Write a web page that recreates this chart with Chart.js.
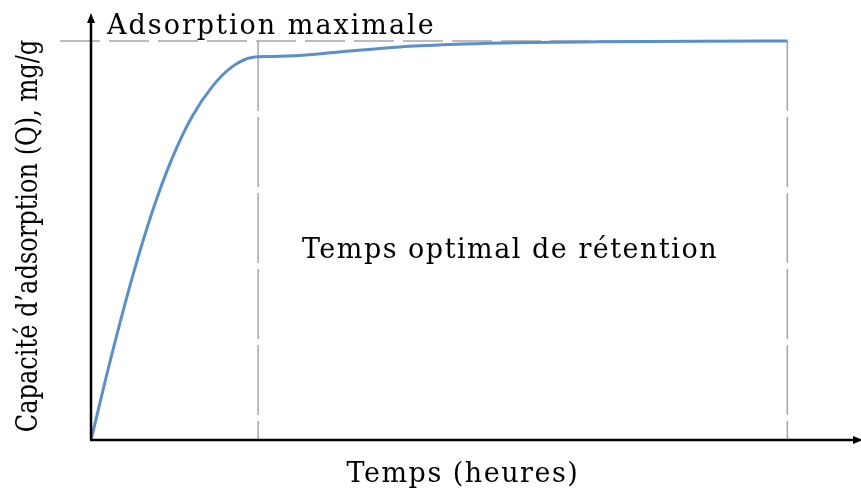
<!DOCTYPE html>
<html>
<head>
<meta charset="utf-8">
<script src="https://cdn.jsdelivr.net/npm/chart.js@4"></script>
<style>
  body { margin: 0; background: #fff; }
  .wrap { width: 861px; height: 488px; position: relative; }
</style>
</head>
<body>
<div class="wrap"><canvas id="myChart"></canvas></div>
<script>
// temps (h) et capacité relative Q/Qmax
const temps = [0, 0.30, 0.589, 0.876, 1.163, 1.45, 1.738, 2.025, 2.312, 2.599, 3.0, 3.719, 4.437, 5.155, 5.873, 7.309, 8.745, 10];
const capacite = [0, 0.215, 0.405, 0.57, 0.705, 0.81, 0.885, 0.935, 0.9586, 0.961, 0.9637, 0.975, 0.985, 0.991, 0.995, 0.998, 0.9995, 1.0];

const tempsOptimal = 2.4;
const tempsFin = 10;
const qMax = 1;

const labelY = "Capacité d’adsorption (Q), mg/g";
const labelX = "Temps (heures)";
const labelMax = "Adsorption maximale";
const labelZone = "Temps optimal de rétention";

const police = "'DejaVu Serif', 'Liberation Serif', serif";

const points = temps.map((t, i) => ({ x: t, y: capacite[i] }));

// lignes pointillées + axes fléchés + textes
const dessin = {
  id: "dessin",
  beforeDatasetsDraw(chart) {
    const { ctx, chartArea, scales } = chart;
    const x = scales.x, y = scales.y;
    const yMax = y.getPixelForValue(qMax);
    const xOpt = x.getPixelForValue(tempsOptimal);
    const xFin = x.getPixelForValue(tempsFin);
    const y0 = y.getPixelForValue(0);
    ctx.save();
    ctx.strokeStyle = "#a6a6a6";
    ctx.lineWidth = 1.5;
    ctx.setLineDash([40, 9]);
    ctx.beginPath();
    ctx.moveTo(chartArea.left - 31, yMax);
    ctx.lineTo(xFin, yMax);
    ctx.stroke();
    ctx.setLineDash([70, 6]);
    ctx.beginPath();
    ctx.moveTo(xOpt, yMax);
    ctx.lineTo(xOpt, y0);
    ctx.moveTo(xFin, yMax);
    ctx.lineTo(xFin, y0);
    ctx.stroke();
    ctx.restore();
  },
  afterDraw(chart) {
    const { ctx, chartArea } = chart;
    const left = chartArea.left, bottom = chartArea.bottom;
    ctx.save();
    ctx.strokeStyle = "#000";
    ctx.fillStyle = "#000";
    ctx.lineWidth = 2.5;
    ctx.beginPath();
    ctx.moveTo(left, bottom);
    ctx.lineTo(left, chartArea.top + 6);
    ctx.moveTo(left - 1, bottom);
    ctx.lineTo(chartArea.right + 2, bottom);
    ctx.stroke();
    // pointes de flèche
    ctx.beginPath();
    ctx.moveTo(left, chartArea.top - 2);
    ctx.lineTo(left - 4, chartArea.top + 8);
    ctx.lineTo(left + 4, chartArea.top + 8);
    ctx.closePath();
    ctx.fill();
    ctx.beginPath();
    ctx.moveTo(chartArea.right + 6, bottom);
    ctx.lineTo(chartArea.right - 4, bottom - 4);
    ctx.lineTo(chartArea.right - 4, bottom + 4);
    ctx.closePath();
    ctx.fill();

    ctx.font = "27px " + police;
    ctx.textBaseline = "alphabetic";
    ctx.textAlign = "left";
    ctx.letterSpacing = "2px";
    ctx.fillText(labelMax, left + 16, 34);
    ctx.letterSpacing = "1.5px";
    ctx.textAlign = "center";
    ctx.fillText(labelZone, 510, 258);
    ctx.fillText(labelX, 463, 482);
    ctx.letterSpacing = "0px";
    ctx.font = "29px " + police;
    ctx.translate(37, 236);
    ctx.rotate(-Math.PI / 2);
    ctx.scale(0.83, 1);
    ctx.fillText(labelY, 0, 0);
    ctx.restore();
  }
};

new Chart(document.getElementById("myChart"), {
  type: "line",
  data: {
    datasets: [{
      data: points,
      borderColor: "#5b8fc8",
      borderWidth: 3,
      pointRadius: 0,
      fill: false,
      cubicInterpolationMode: "monotone"
    }]
  },
  options: {
    responsive: true,
    maintainAspectRatio: false,
    animation: false,
    layout: { padding: { left: 91, right: 4, top: 15, bottom: 48 } },
    plugins: { legend: { display: false }, tooltip: { enabled: false } },
    scales: {
      x: { type: "linear", min: 0, max: 11, display: false },
      y: { min: 0, max: 1.065, display: false }
    }
  },
  plugins: [dessin]
});
</script>
</body>
</html>
